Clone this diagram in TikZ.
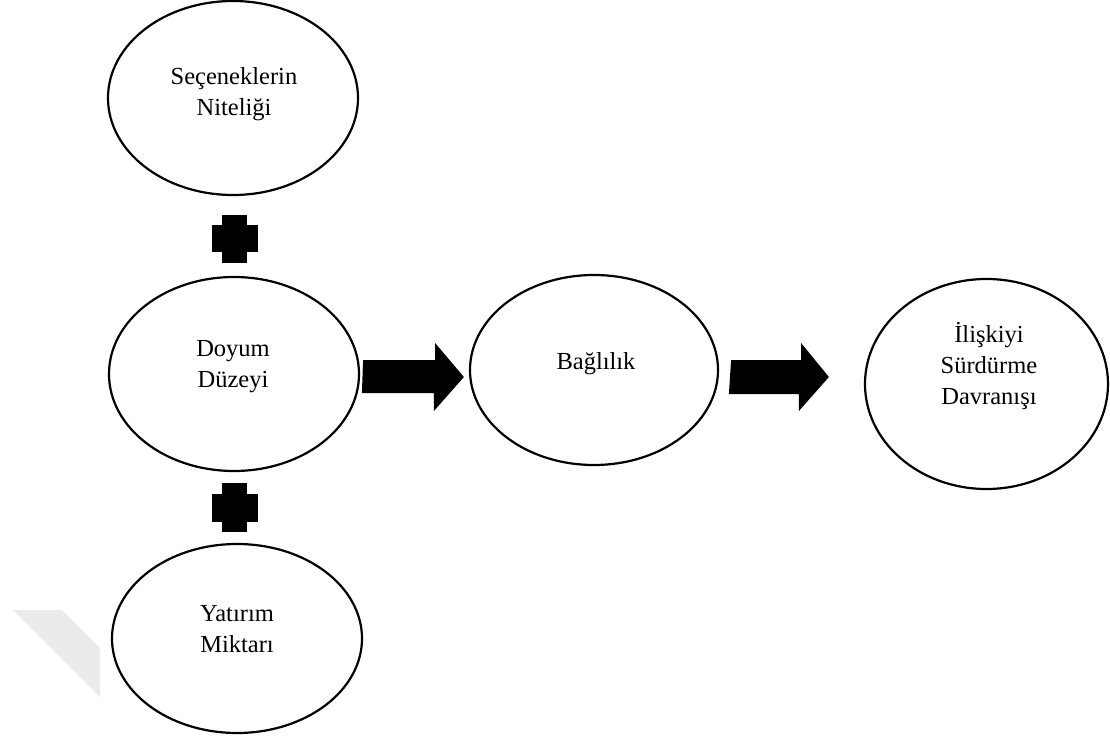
\documentclass[tikz,border=0pt]{standalone}
\usepackage{fontspec}
\setmainfont{Liberation Serif}
\usepackage{tikz}
\usetikzlibrary{shapes.geometric}
\usetikzlibrary{calc}

\newcommand{\ovalfont}{\fontsize{12.25}{15.5}\selectfont}

\begin{document}
\begin{tikzpicture}[x=0.5pt, y=-0.5pt,
    oval/.style={draw, ellipse, line width=1.1pt, minimum width=125pt, minimum height=97pt, inner sep=0pt},
    ovaltext/.style={font=\ovalfont, align=center, inner sep=0pt}]
  \useasboundingbox (0,0) rectangle (1110,738);

  \fill [black!8] (13,610) -- (62,610) -- (100,648) -- (100,697) -- cycle;

  \node [oval] (secenek)  at (233,98)  {};
  \node [oval] (doyum)    at (234,374) {};
  \node [oval, minimum height=94.5pt] (yatirim) at (237,638.5) {};
  \node [oval, minimum width=124pt, minimum height=95pt] (baglilik) at (594,370) {};
  \node [oval, minimum width=121.5pt, minimum height=105pt] (iliski) at (986.5,384) {};

  \node [ovaltext] (secenekT)  at (234,94)  {Seçeneklerin\\Niteliği};
  \node [ovaltext] (doyumT)    at (233,367) {Doyum\\Düzeyi};
  \node [ovaltext] (yatirimT)  at (237,629) {Yatırım\\Miktarı};
  \node [ovaltext] (baglilikT) at (596,364) {Bağlılık};
  \node [ovaltext] (iliskiT)   at (989,366) {İlişkiyi\\Sürdürme\\Davranışı};

  \coordinate (P1) at (234.5,239);
  \coordinate (P2) at (234.5,507.5);

  \fill (P1) ++(-12.5,-24) rectangle ++(25,48);
  \fill (P1) ++(-23,-13.5) rectangle ++(46,27);
  \fill (P2) ++(-12.5,-24.5) rectangle ++(25,49);
  \fill (P2) ++(-23,-14) rectangle ++(46,28);

  \coordinate (A1) at ($(doyum.east |- 0,377)+(3,0)$);
  \coordinate (T1) at ($(baglilik.west |- 0,377)+(-5,0)$);
  \coordinate (A2) at ($(baglilik.east |- 0,377)+(12,0)$);
  \coordinate (T2) at ($(iliski.west |- 0,377)+(-35,0)$);

  \fill (A1) ++(0,-17) -- ++(72,0) -- ++(0,-17) -- (T1)
    -- ++(-30,34) -- ++(0,-18) -- ++(-72,0) -- cycle;
  \fill (A2) ++(0,-17) -- ++(70,0) -- ++(0,-17) -- (T2)
    -- ++(-30,34) -- ++(0,-17) -- ++(-70,0) -- cycle;
\end{tikzpicture}
\end{document}
